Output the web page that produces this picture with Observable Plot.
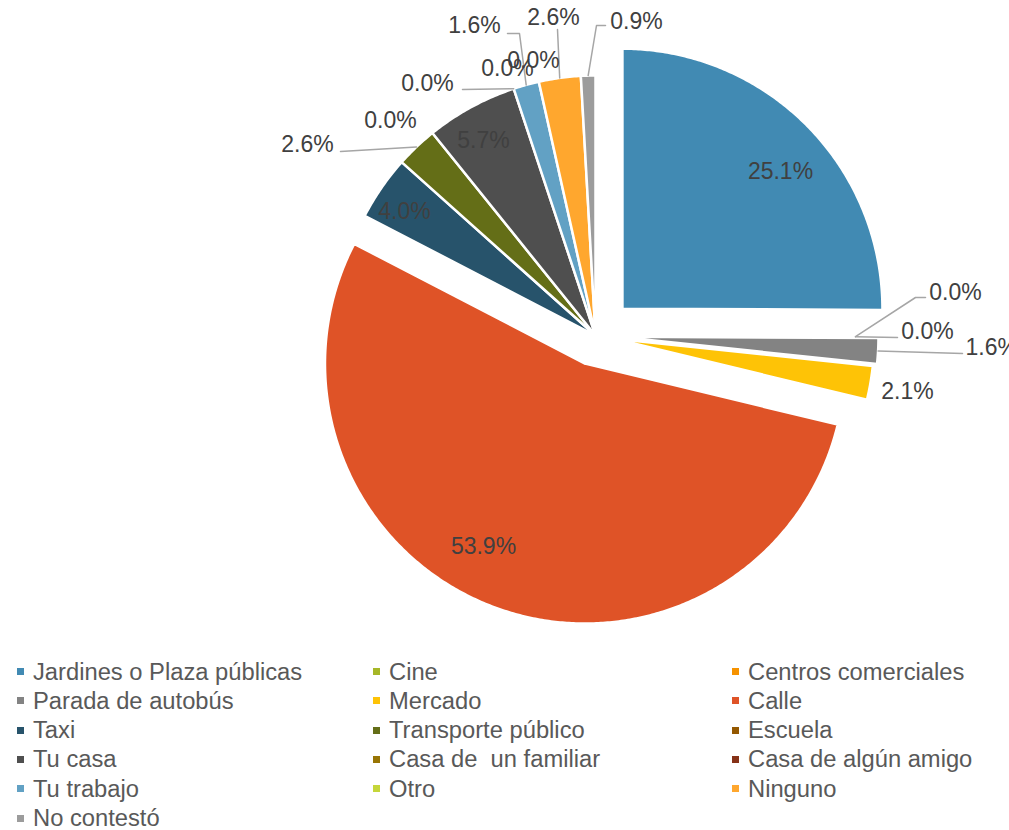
<!DOCTYPE html>
<html><head><meta charset="utf-8">
<script src="https://cdn.jsdelivr.net/npm/d3@7"></script>
<script src="https://cdn.jsdelivr.net/npm/@observablehq/plot@0.6"></script>
<style>
body{margin:0;background:#fff;font-family:"Liberation Sans",Arial,sans-serif;}
#wrap{position:relative;width:1009px;height:830px;overflow:hidden;background:#fff;}
#chart{position:absolute;left:0;top:0;}
.lg{position:absolute;font-size:23px;color:#595959;white-space:pre;line-height:30px;transform:scaleX(1.032);transform-origin:0 50%;}
.sw{position:absolute;width:7px;height:7px;}
</style></head><body><div id="wrap"><div id="chart"></div><div id="legend"></div></div>
<script>
// ---- data ----
const categories = ["Jardines o Plaza públicas","Cine","Centros comerciales","Parada de autobús","Mercado","Calle","Taxi","Transporte público","Escuela","Tu casa","Casa de  un familiar","Casa de algún amigo","Tu trabajo","Otro","Ninguno","No contestó"];
const values = [25.1, 0.0, 0.0, 1.6, 2.1, 53.9, 4.0, 2.6, 0.0, 5.7, 0.0, 0.0, 1.6, 0.0, 2.6, 0.9];
const colors = ["#418AB3","#A6B727","#F69200","#838383","#FEC306","#DF5327","#27536B","#646E17","#945800","#4F4F4F","#987504","#863217","#62A1C4","#C5D63A","#FFA72E","#9C9C9C"];

// ---- layout (pixels) ----
const W = 1009, H = 640, CX = 595, CY = 335, R = 260;
const explode = {"Jardines o Plaza públicas":38, "Parada de autobús":23, "Mercado":19, "Calle":30};
// label positions (absolute px) and optional leader start points
const labelLayout = {
  "Jardines o Plaza públicas": {p:[780,171]},
  "Cine": {p:[955,292], lead:[[925,297],[915,297]]},
  "Centros comerciales": {p:[927,331], lead:[[897,337]]},
  "Parada de autobús": {p:[965,347], anchor:"start", lead:[[962,353]]},
  "Mercado": {p:[907,391]},
  "Calle": {p:[483,546]},
  "Taxi": {p:[404,211]},
  "Transporte público": {p:[307,144], lead:[[340,151]]},
  "Escuela": {p:[390,120]},
  "Tu casa": {p:[483,140]},
  "Casa de  un familiar": {p:[427,83], lead:[[462,89]]},
  "Casa de algún amigo": {p:[507,68]},
  "Tu trabajo": {p:[474,25], lead:[[507,33],[519,33]]},
  "Otro": {p:[533,60]},
  "Ninguno": {p:[553,17], lead:[[557,29]]},
  "No contestó": {p:[636,21], lead:[[605,25],[596,25]]}
};

// ---- geometry from data ----
const total = d3.sum(values);
let acc = 0;
const slices = categories.map((c, i) => {
  const a0 = acc / total * 2 * Math.PI; acc += values[i];
  const a1 = acc / total * 2 * Math.PI;
  const e = explode[c] || 0;
  const mid = (a0 + a1) / 2;
  return {c, i, v: values[i], a0, a1, mid, ox: e * Math.sin(mid), oy: -e * Math.cos(mid)};
});
const polyPts = [];
for (const s of slices) {
  if (s.v <= 0) continue;
  polyPts.push({c: s.c, x: s.ox, y: s.oy});
  const n = Math.max(2, Math.ceil((s.a1 - s.a0) / (Math.PI / 360)));
  for (let k = 0; k <= n; k++) {
    const a = s.a0 + (s.a1 - s.a0) * k / n;
    polyPts.push({c: s.c, x: s.ox + R * Math.sin(a), y: s.oy - R * Math.cos(a)});
  }
  polyPts.push({c: s.c, x: s.ox, y: s.oy});
}
const leaderPts = [];
const labelRows = [];
for (const s of slices) {
  const L = labelLayout[s.c];
  labelRows.push({c: s.c, x: L.p[0] - CX, y: L.p[1] - CY, t: s.v.toFixed(1) + "%", anchor: L.anchor || "middle"});
  if (L.lead) {
    for (const q of L.lead) leaderPts.push({c: s.c, x: q[0] - CX, y: q[1] - CY});
    leaderPts.push({c: s.c, x: s.ox + R * Math.sin(s.mid), y: s.oy - R * Math.cos(s.mid)});
  }
}
const font = "Liberation Sans, Arial, sans-serif";
const chart = Plot.plot({
  width: W, height: H, margin: 0,
  style: {background: "white", fontFamily: font, overflow: "visible"},
  x: {domain: [-CX, W - CX], axis: null},
  y: {domain: [H - CY, -CY], axis: null},
  color: {domain: categories, range: colors},
  marks: [
    Plot.line(polyPts, {x: "x", y: "y", z: "c", fill: "c", stroke: "white", strokeWidth: 2.5, strokeLinejoin: "round"}),
    Plot.line(leaderPts, {x: "x", y: "y", z: "c", stroke: "#A6A6A6", strokeWidth: 1.5}),
    Plot.text(labelRows.filter(d => d.anchor === "middle"), {x: "x", y: "y", text: "t", fontSize: 23, fill: "#404040", fontFamily: font, textAnchor: "middle"}),
    Plot.text(labelRows.filter(d => d.anchor === "start"), {x: "x", y: "y", text: "t", fontSize: 23, fill: "#404040", fontFamily: font, textAnchor: "start"})
  ]
});
document.getElementById("chart").appendChild(chart);

// ---- legend ----
const colText = [33, 389, 748], colSw = [17, 373, 732];
const legend = document.getElementById("legend");
categories.forEach((c, i) => {
  const row = Math.floor(i / 3), col = i % 3;
  const cy = 671.5 + row * 29.3;
  const sw = document.createElement("div");
  sw.className = "sw"; sw.style.left = colSw[col] + "px"; sw.style.top = (cy - 3.5) + "px"; sw.style.background = colors[i];
  legend.appendChild(sw);
  const t = document.createElement("div");
  t.className = "lg"; t.textContent = c; t.style.left = colText[col] + "px"; t.style.top = (cy - 15) + "px";
  legend.appendChild(t);
});
</script></body></html>
